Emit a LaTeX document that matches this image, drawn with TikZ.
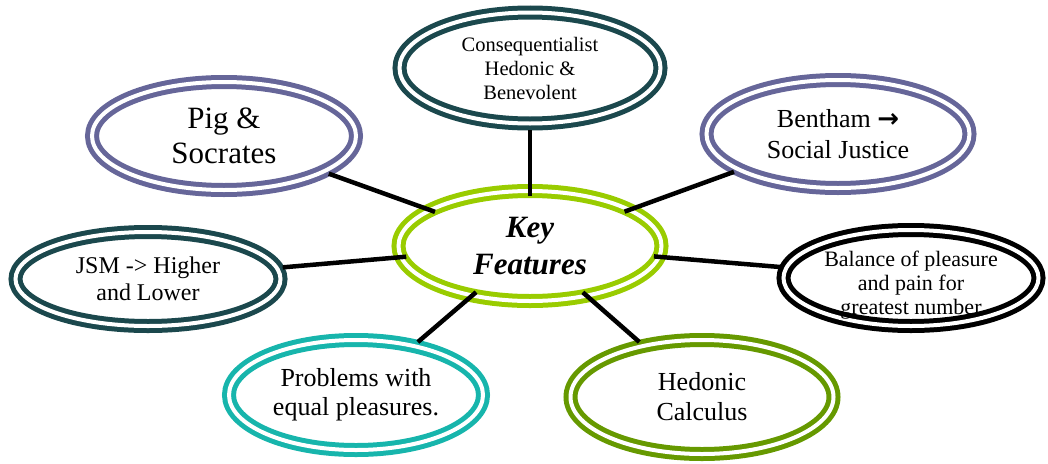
\documentclass[tikz,border=0pt]{standalone}
\usepackage{fontspec}
\setmainfont{Liberation Serif}
\newfontfamily\arrowfont{DejaVu Sans}
\usetikzlibrary{shapes.geometric}
\definecolor{darkteal}{RGB}{27,72,77}
\definecolor{lavender}{RGB}{102,102,153}
\definecolor{keygreen}{RGB}{153,204,0}
\definecolor{seateal}{RGB}{23,181,172}
\definecolor{calcgreen}{RGB}{102,153,0}
\begin{document}
\begin{tikzpicture}[x=1pt,y=-1pt,
    ring/.style={ellipse, draw=#1, line width=5pt, double=white, double distance=4pt,
        outer sep=0pt, inner sep=0pt, align=center},
    spoke/.style={line width=4.5pt, shorten <=-5pt, shorten >=6pt}]
    \useasboundingbox (0,0) rectangle (1048,463);
    % centre
    \node[ring=keygreen, minimum width=263pt, minimum height=110pt,
        font=\fontsize{31}{37}\selectfont\bfseries\itshape] (key) at (530,246) {Key\\Features};
    % satellites
    \node[ring=darkteal, minimum width=261pt, minimum height=111pt,
        font=\fontsize{20.5}{24}\selectfont] (conseq) at (530,68) {Consequentialist\\Hedonic \&\\Benevolent};
    \node[ring=lavender, minimum width=264pt, minimum height=108pt,
        font=\fontsize{31}{35}\selectfont] (pig) at (224,136) {Pig \&\\Socrates};
    \node[ring=lavender, minimum width=263pt, minimum height=108pt,
        font=\fontsize{26}{31}\selectfont] (bentham) at (838,134) {Bentham {\arrowfont\bfseries\fontsize{26}{26}\selectfont →}\\Social Justice};
    \node[ring=darkteal, minimum width=265pt, minimum height=94pt,
        font=\fontsize{24}{27}\selectfont] (jsm) at (148,279) {JSM -> Higher\\and Lower};
    \node[ring=black, minimum width=255pt, minimum height=96pt, inner ysep=-9pt,
        font=\fontsize{22}{24}\selectfont] (balance) at (911,278) {\rule{0pt}{30pt}Balance of pleasure\\and pain for\\greatest number};
    \node[ring=seateal, minimum width=254pt, minimum height=110pt,
        font=\fontsize{26}{29}\selectfont] (problems) at (356,395) {Problems with\\equal pleasures.};
    \node[ring=calcgreen, minimum width=263pt, minimum height=114pt,
        font=\fontsize{26}{30}\selectfont] (hedonic) at (702,397) {Hedonic\\Calculus};
    % spokes
    \draw[spoke] (key) -- (conseq);
    \draw[spoke] (key) -- (pig);
    \draw[spoke] (key) -- (bentham);
    \draw[spoke] (key) -- (jsm);
    \draw[spoke] (key) -- (balance);
    \draw[spoke] (key) -- (problems);
    \draw[spoke] (key) -- (hedonic);
\end{tikzpicture}
\end{document}
